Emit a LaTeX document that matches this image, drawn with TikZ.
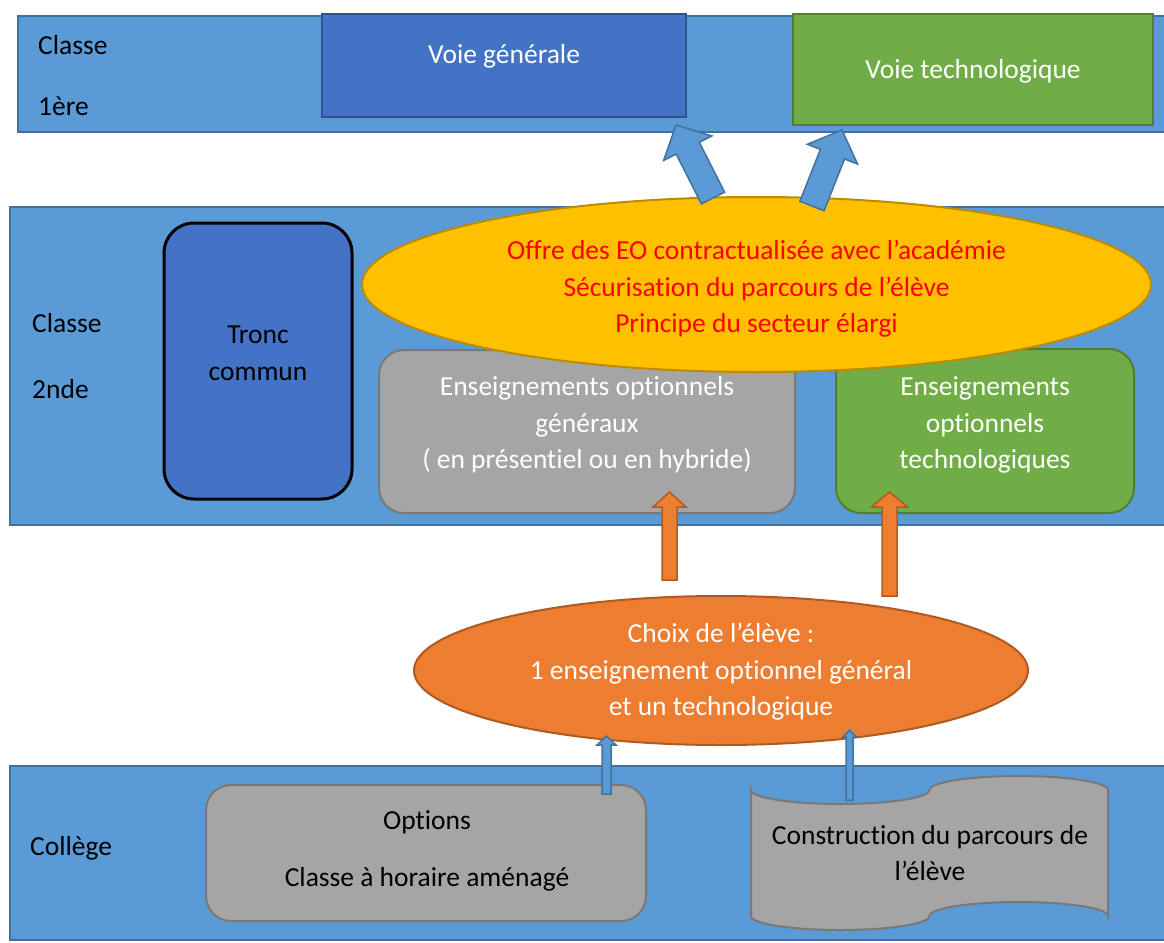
\documentclass[tikz,border=0pt]{standalone}
\usepackage{fontspec}
\setmainfont[Ligatures=NoCommon]{Carlito}
\usetikzlibrary{calc,positioning,shapes.geometric}
\definecolor{bandblue}{HTML}{5B9BD5}
\definecolor{bandline}{HTML}{41719C}
\definecolor{royal}{HTML}{4472C4}
\definecolor{royalline}{HTML}{2F528F}
\definecolor{leaf}{HTML}{70AD47}
\definecolor{leafline}{HTML}{507E32}
\definecolor{gold}{HTML}{FFC000}
\definecolor{goldline}{HTML}{BC8C00}
\definecolor{stone}{HTML}{A5A5A5}
\definecolor{stoneline}{HTML}{787878}
\definecolor{tangerine}{HTML}{ED7D31}
\definecolor{tangline}{HTML}{AE5A21}
\tikzset{
  band/.style={draw=bandline, fill=bandblue, line width=1.5pt, inner sep=0pt},
  lbl/.style={anchor=west, inner sep=0pt},
  txt/.style={align=center, inner sep=0pt},
  wtxt/.style={txt, text=white},
  voiegen/.style={draw=royalline, fill=royal, line width=2pt, inner sep=0pt},
  voietech/.style={draw=leafline, fill=leaf, line width=2pt, inner sep=0pt},
  tronc/.style={draw=black, fill=royal, line width=3pt, rounded corners=30pt, inner sep=0pt},
  eobox/.style={line width=2pt, rounded corners=25pt, inner sep=0pt},
  offre/.style={ellipse, draw=goldline, fill=gold, line width=2pt, inner sep=0pt,
    minimum width=789pt, minimum height=175pt},
  choix/.style={ellipse, draw=tangline, fill=tangerine, line width=2pt, inner sep=0pt,
    minimum width=614pt, minimum height=149pt},
  tapebox/.style={draw=stoneline, fill=stone, line width=2pt},
  bluearrow/.style={draw=bandline, fill=bandblue, line width=1.5pt, line join=miter},
  orangearrow/.style={draw=tangline, fill=tangerine, line width=1.5pt, line join=miter}
}
% block arrow: [style]{tail}{tip}{half shaft}{half head}{head length}
\newcommand{\blockarrow}[6][]{%
  \path ($(#3)!#6!(#2)$) coordinate (hb);
  \draw[#1] ($(#2)!#4!90:(#3)$) -- ($(hb)!#4!90:(#3)$) -- ($(hb)!#5!90:(#3)$) -- (#3)
    -- ($(hb)!#5!-90:(#3)$) -- ($(hb)!#4!-90:(#3)$) -- ($(#2)!#4!-90:(#3)$) -- cycle;
}

\begin{document}
\begin{tikzpicture}[x=1pt, y=-1pt, every node/.style={font=\fontsize{27.5}{36.5}\selectfont}]
\useasboundingbox (0,0) rectangle (1164,942);

% levels
\node[band, minimum width=1156pt, minimum height=116pt] (premiere) at (596,74) {};
\node[band, minimum width=1164pt, minimum height=318pt] (seconde) at (592,366) {};
\node[band, minimum width=1164pt, minimum height=174pt] (college) at (592,853) {};
\node[lbl] (cl1) at (38,45) {Classe};
\node[lbl] (niv1) at (38,106) {1ère};
\node[lbl] (cl2) at (32,323) {Classe};
\node[lbl] (niv2) at (32,389) {2nde};
\node[lbl] (niv3) at (30,848) {Collège};

% 1ere
\node[voiegen, minimum width=364pt, minimum height=103pt] (vgen) at (504,65.5) {};
\node[wtxt] (vgentxt) at (504,56.5) {Voie générale};
\node[voietech, minimum width=360pt, minimum height=111pt] (vtech) at (973,69.5) {};
\node[wtxt] (vtechtxt) at (973,71) {Voie technologique};

% 2nde
\node[tronc, minimum width=188pt, minimum height=276pt] (tc) at (258,361) {};
\node[txt] (tctxt) at (258,353.5) {Tronc\\commun};
\node[eobox, draw=stoneline, fill=stone, minimum width=416pt, minimum height=163pt] (eogen) at (587,431.5) {};
\node[wtxt] (eogentxt) at (587,425) {Enseignements optionnels\\généraux\\( en présentiel ou en hybride)};
\node[eobox, draw=leafline, fill=leaf, minimum width=298pt, minimum height=164pt] (eotech) at (985,431) {};
\node[wtxt] (eotechtxt) at (985,425) {Enseignements\\optionnels\\technologiques};
\node[offre] (offre) at (756.5,284.5) {};
\node[txt, text=red] (offretxt) at (756.5,289) {Offre des EO contractualisée avec l’académie\\Sécurisation du parcours de l’élève\\Principe du secteur élargi};

\coordinate (g1) at (713,198); \coordinate (g2) at (676,125);
\coordinate (t1) at (812,206); \coordinate (t2) at (842,130);
\blockarrow[bluearrow]{g1}{g2}{13pt}{27pt}{26pt}
\blockarrow[bluearrow]{t1}{t2}{13pt}{27pt}{26pt}

% choix
\node[choix] (choix) at (721,670.5) {};
\node[wtxt] (choixtxt) at (721,672) {Choix de l’élève :\\1 enseignement optionnel général\\et un technologique};
\coordinate (o1) at (669.5,580); \coordinate (o2) at (669.5,492);
\coordinate (p1) at (889.5,596); \coordinate (p2) at (889.5,492);
\blockarrow[orangearrow]{o1}{o2}{7.5pt}{16.5pt}{15pt}
\blockarrow[orangearrow]{p1}{p2}{7.5pt}{18pt}{15pt}

% college
\node[eobox, draw=stoneline, fill=stone, minimum width=440pt, minimum height=136pt] (opt) at (426,853) {};
\node[txt] (opttxt) at (427,822) {Options};
\node[txt] (chatxt) at (427,879) {Classe à horaire aménagé};
\draw[tapebox] (751,790) arc[start angle=180, end angle=0, x radius=89.25, y radius=14]
  arc[start angle=180, end angle=360, x radius=89.25, y radius=14]
  -- (1108,916) arc[start angle=0, end angle=-180, x radius=89.25, y radius=14]
  arc[start angle=0, end angle=180, x radius=89.25, y radius=14] -- cycle;
\node[txt] (parcours) at (930,853) {Construction du parcours de\\l’élève};
\coordinate (s1) at (606.5,794); \coordinate (s2) at (606.5,736);
\coordinate (r1) at (849.5,800); \coordinate (r2) at (849.5,730);
\blockarrow[bluearrow]{s1}{s2}{4.5pt}{9.5pt}{9pt}
\blockarrow[bluearrow]{r1}{r2}{3.5pt}{6.5pt}{7pt}
\end{tikzpicture}
\end{document}
